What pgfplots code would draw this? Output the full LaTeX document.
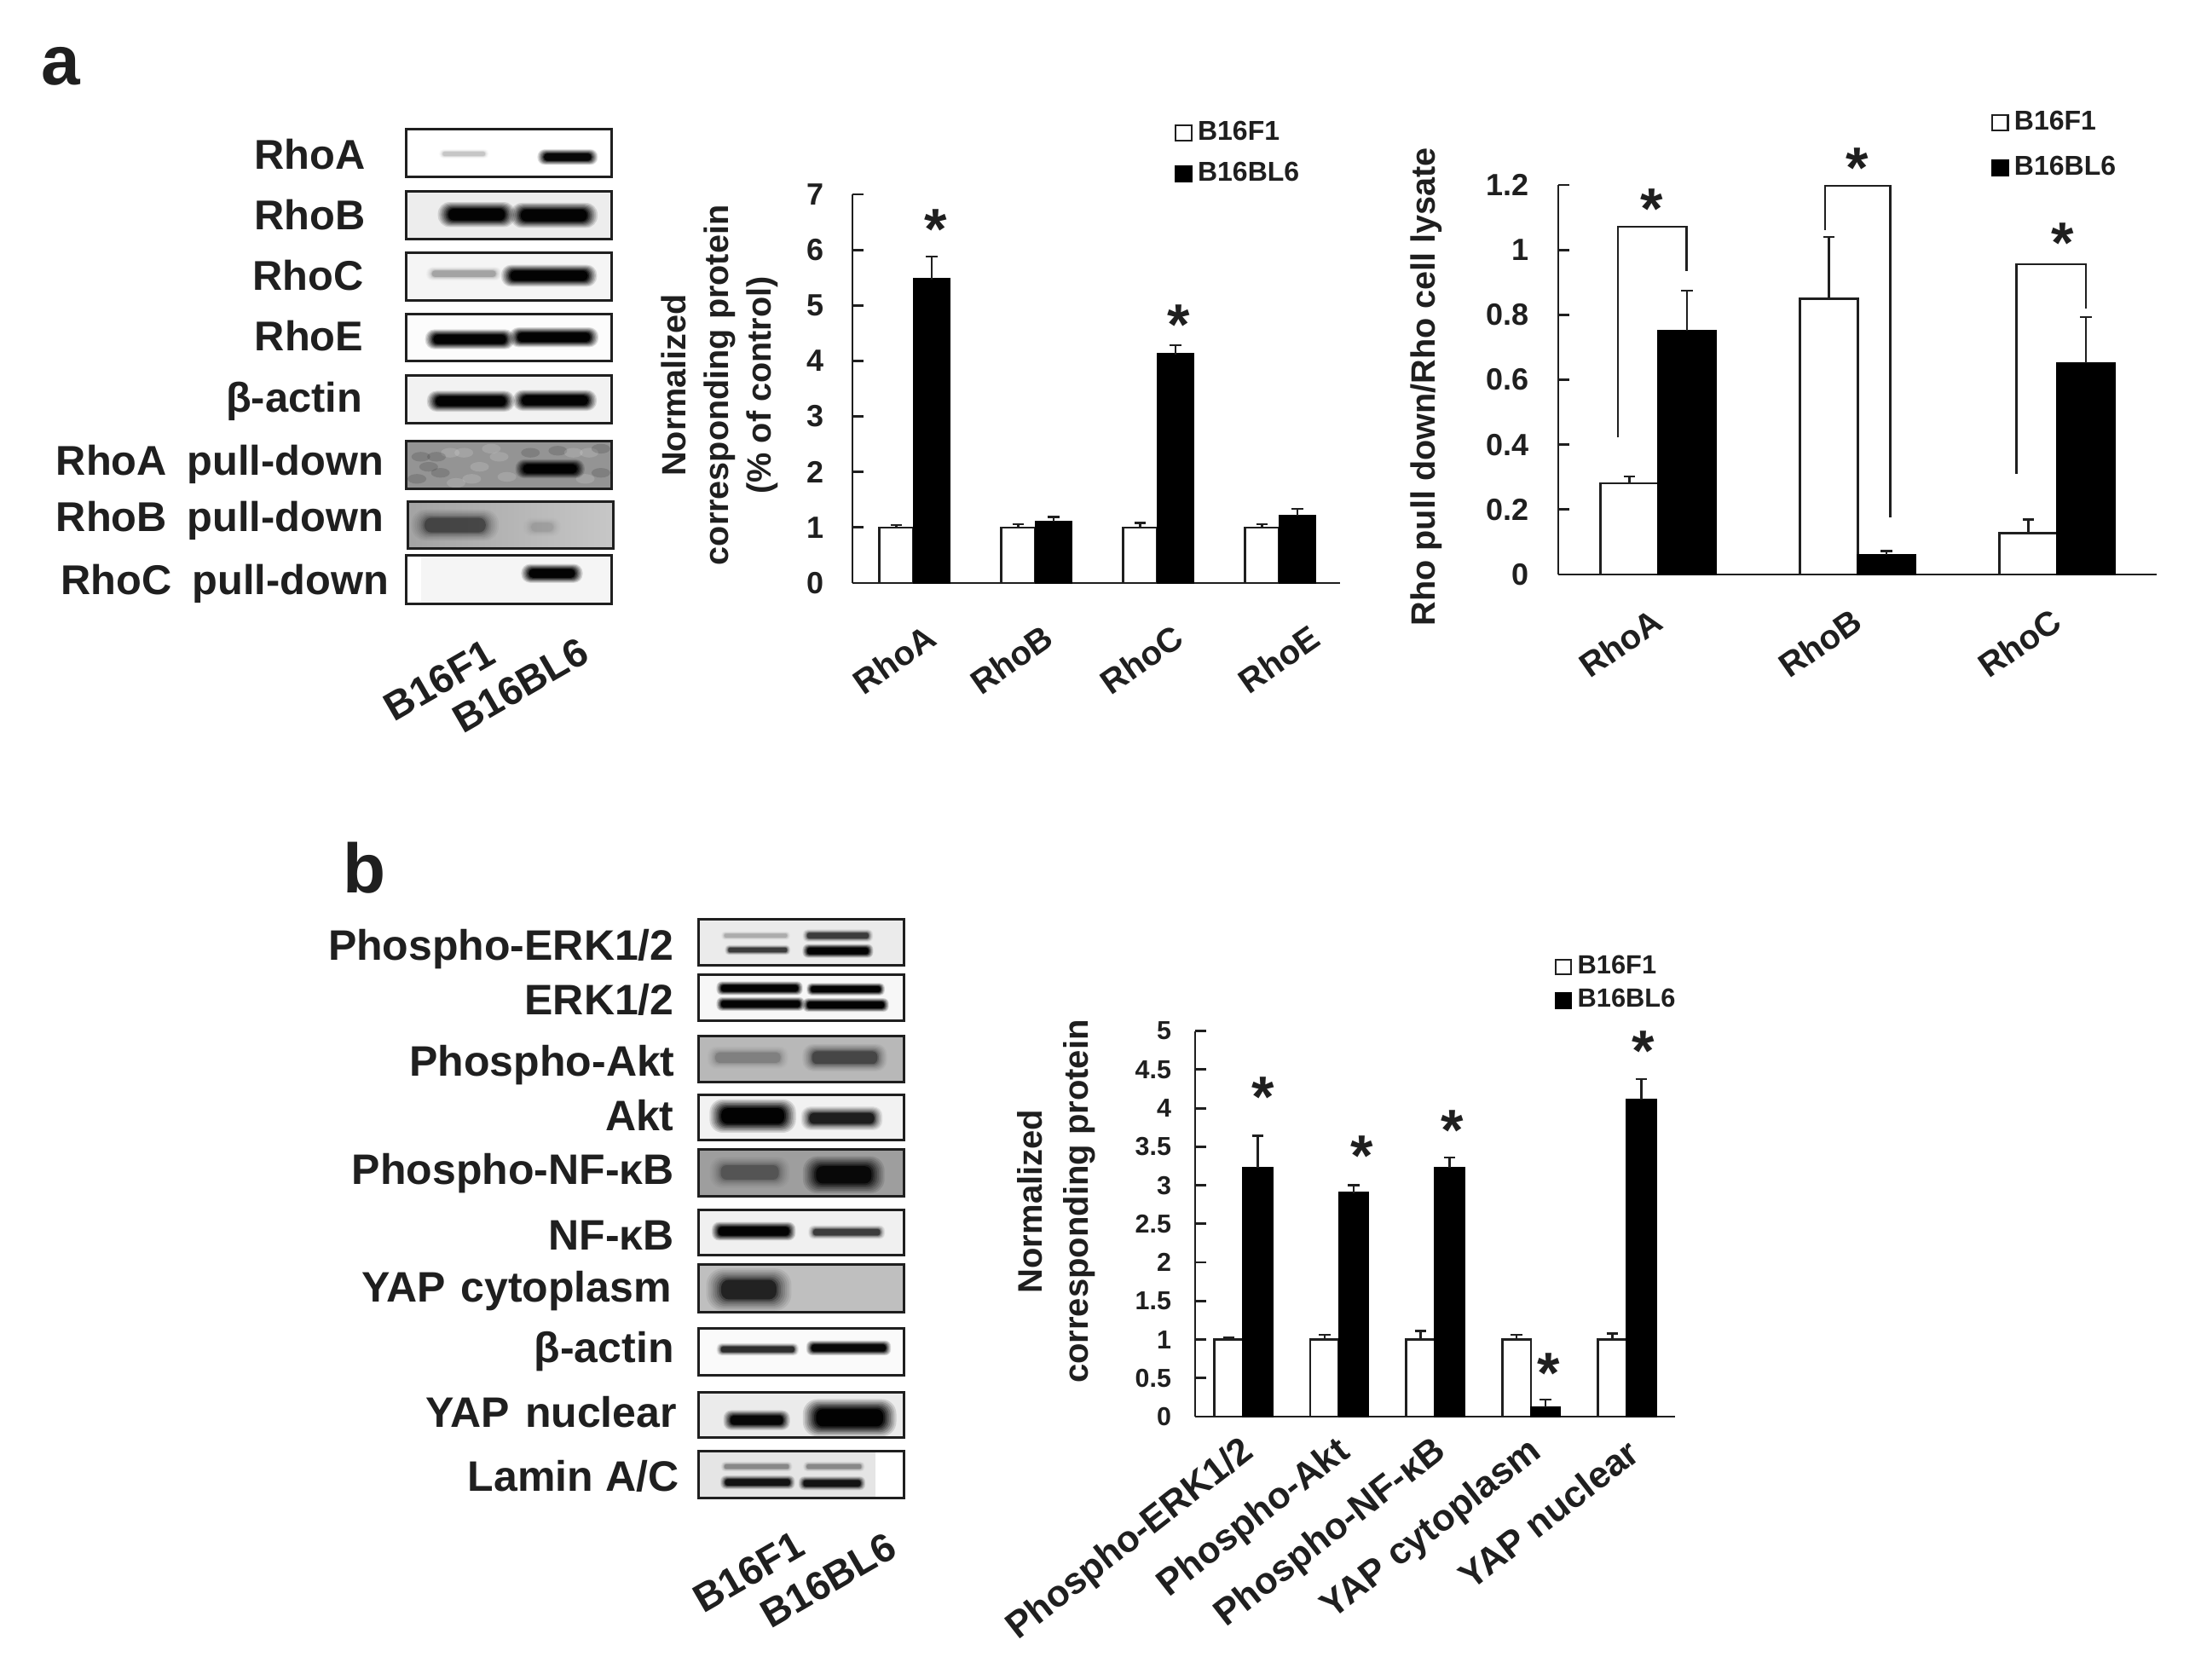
\documentclass[border=0pt]{standalone}
\usepackage{fontspec}
\setmainfont{Liberation Sans}
\usepackage{pgfplots}
\pgfplotsset{compat=1.18}
\definecolor{ink}{gray}{0.12}
\newcommand\band[5]{%
  \foreach \k/\p in {1.3/.125,1.2/.143,1.1/.167,1.0/.2,.9/.25,.8/.333,.7/.5,.6/.9}{%
    \pgfmathsetmacro\ya{#3-\k*#4}\pgfmathsetmacro\yb{#3+\k*#4}%
    \pgfmathsetmacro\xa{#1+(1-\k)*#4*1.6}\pgfmathsetmacro\xb{#2-(1-\k)*#4*1.6}%
    \pgfmathsetmacro\rc{\k*#4*.11}%
    \pgfmathsetmacro\op{min(1,1.8*#5)*\p}%
    \fill[black,opacity=\op,rounded corners=\rc pt] (\xa,\ya) rectangle (\xb,\yb);%
  }}
\newcommand\bg[3]{\fill[black!#3] (\bxa,#1) rectangle (\bxb,#2);}
\newcommand\frm[2]{\draw[ink,line width=.75pt] (\bxa,#1) rectangle (\bxb,#2);}
\newcommand\blab[4]{\node[anchor=base east,inner sep=0pt,text=ink,font=\blotfont] at (#1,#2) {#3#4};}
\newcommand\starfont{\bfseries\fontsize{17}{17}\selectfont}
\newcommand\bstar[2]{\node[anchor=base,inner sep=0pt,yshift=-8.2pt,text=ink,font=\starfont] at (axis cs:#1,#2) {*};}
\pgfplotsset{
  barchart/.style={
    scale only axis, clip=false,
    axis lines=left, axis line style={-,ink,line width=.7pt},
    tick align=inside, ytick pos=left, major tick length=3.25pt,
    ytick style={ink,line width=.7pt}, xtick style={draw=none},
    /pgf/number format/assume math mode=true,
    yticklabel style={anchor=east,inner sep=0pt,text=ink},
    xticklabel style={rotate=35,anchor=east,inner sep=0pt,text=ink},
    legend cell align=left,
  },
  ebars/.style={
    /pgfplots/error bars/y dir=plus,/pgfplots/error bars/y explicit,
    /pgfplots/error bars/error bar style={xshift=#1,ink,line width=.6pt},
    /pgfplots/error bars/error mark options={rotate=90,mark size=1.7pt,ink,line width=.6pt}},
  wbar/.style={ybar,draw=ink,fill=white,line width=.65pt,ebars=#1,
    /pgfplots/legend image code/.code={\draw[draw=ink,fill=white,line width=.55pt] (0pt,-2.2pt) rectangle (4.6pt,2.2pt);}},
  kbar/.style={ybar,draw=black,fill=black,line width=.6pt,ebars=#1,
    /pgfplots/legend image code/.code={\draw[draw=black,fill=black,line width=.55pt] (0pt,-2.2pt) rectangle (4.6pt,2.2pt);}},
  leg/.style n args={4}{legend style={at={(#1,#2)},anchor=north west,draw=none,fill=none,
      inner sep=0pt,outer sep=0pt,row sep=#3,
      nodes={inner sep=1pt,text=ink},
      font=\bfseries\fontsize{#4}{#4}\selectfont,
      /tikz/column 1/.style={column sep=.6pt}}},
}
\begin{document}
\begin{tikzpicture}
\path[use as bounding box] (0,0) rectangle (645.5pt,-492.75pt);

% panel letters
\node[anchor=base west,inner sep=0pt,text=ink,font=\bfseries\fontsize{20.5}{20.5}\selectfont] at (12pt,-24.75pt) {a};
\node[anchor=base west,inner sep=0pt,text=ink,font=\bfseries\fontsize{20.5}{20.5}\selectfont] at (100.5pt,-261.75pt) {b};

% ---------- blots a
\newcommand\blotfont{\bfseries\fontsize{12.2}{12.2}\selectfont}
\begin{scope}[shift={(7.5pt,-32.5pt)},x=0.11478pt,y=-0.11798pt]
\def\bxa{972}\def\bxb{1497}
\bg{45}{165}{0}\band{1060}{1180}{107}{9}{.05}\band{1315}{1455}{115}{15}{.5}\frm{45}{165}
\bg{200}{318}{7}\band{1065}{1240}{258}{24}{.55}\band{1250}{1450}{260}{24}{.55}\frm{200}{318}
\bg{352}{472}{4}\band{1030}{1210}{405}{13}{.08}\band{1225}{1450}{410}{21}{.55}\frm{352}{472}
\bg{505}{622}{1}\band{1030}{1240}{568}{19}{.55}\band{1245}{1455}{563}{19}{.55}\frm{505}{622}
\bg{657}{777}{5}\band{1035}{1240}{722}{20}{.55}\band{1255}{1450}{720}{20}{.55}\frm{657}{777}
\bg{822}{940}{42}
\foreach \a/\b/\c in {1010/860/black,1060/900/black,1000/915/black,1120/850/white,1160/885/white,1210/860/white,1140/915/white,1230/910/white,1085/850/white,1050/860/black,1440/850/white,1470/900/black,1430/915/white,1290/850/black,1360/845/black,1400/850/white,1030/885/black,1190/840/white,1100/925/white,1470/840/black}{%
  \fill[\c,opacity=.14] (\a,\b) ellipse [x radius=24,y radius=12];}
\band{1260}{1420}{890}{18}{.6}\frm{822}{940}
\def\bxa{977}\def\bxb{1502}
\shade[left color=black!36,right color=black!22] (\bxa,972) rectangle (\bxb,1088);
\band{1000}{1195}{1030}{30}{.17}\band{1280}{1360}{1035}{18}{.03}\frm{972}{1088}
\def\bxa{972}\def\bxb{1497}
\bg{1105}{1225}{4}\fill[white] (\bxa,1105) rectangle (1010,1225);\band{1275}{1415}{1150}{18}{.55}\frm{1105}{1225}
\blab{870}{145}{RhoA}{}
\blab{870}{295}{RhoB}{}
\blab{866}{445}{RhoC}{}
\blab{865}{597}{RhoE}{}
\blab{862}{748}{β-actin}{}
\blab{917}{905}{RhoA\hspace{2.6pt} pull-down}{}
\blab{917}{1045}{RhoB\hspace{2.6pt} pull-down}{}
\blab{930}{1203}{RhoC\hspace{2.6pt} pull-down}{}
\end{scope}
\node[rotate=30,inner sep=0pt,text=ink,font=\bfseries\fontsize{11.7}{11.7}\selectfont] at (128.9pt,-199.5pt) {B16F1};
\node[rotate=30,inner sep=0pt,text=ink,font=\bfseries\fontsize{11.7}{11.7}\selectfont] at (152.7pt,-200.9pt) {B16BL6};

% ---------- blots b
\renewcommand\blotfont{\bfseries\fontsize{12.5}{12.5}\selectfont}
\begin{scope}[shift={(92.5pt,-262.5pt)},x=0.11478pt,y=-0.14029pt]
\def\bxa{980}\def\bxb{1505}
\bg{50}{147}{8}\band{1040}{1210}{85}{7}{.06}\band{1050}{1210}{115}{8}{.25}\band{1250}{1420}{85}{10}{.25}\band{1250}{1420}{117}{11}{.55}\frm{50}{147}
\bg{167}{262}{3}\band{1030}{1240}{195}{11}{.55}\band{1260}{1450}{197}{10}{.55}\band{1030}{1245}{228}{11}{.55}\band{1250}{1460}{230}{11}{.55}\frm{167}{262}
\bg{295}{392}{28}\band{1010}{1200}{340}{18}{.07}\band{1255}{1450}{340}{22}{.18}\frm{295}{392}
\bg{417}{512}{5}\band{1020}{1215}{462}{27}{.6}\band{1250}{1440}{467}{19}{.35}\frm{417}{512}
\bg{532}{630}{38}\band{1020}{1200}{580}{25}{.12}\band{1260}{1440}{585}{30}{.45}\frm{532}{630}
\bg{658}{753}{6}\band{1020}{1220}{703}{15}{.55}\band{1265}{1450}{705}{11}{.25}\frm{658}{753}
\bg{773}{872}{25}\band{1015}{1200}{825}{34}{.3}\frm{773}{872}
\bg{907}{1005}{2}\band{1030}{1230}{950}{10}{.3}\band{1260}{1465}{947}{12}{.5}\frm{907}{1005}
\bg{1040}{1135}{8}\band{1050}{1205}{1098}{16}{.5}\band{1260}{1470}{1093}{30}{.65}\frm{1040}{1135}
\bg{1163}{1260}{10}\fill[white] (1430,1163) rectangle (\bxb,1260);\band{1040}{1215}{1195}{8}{.1}\band{1250}{1400}{1195}{8}{.1}\band{1040}{1220}{1228}{11}{.4}\band{1240}{1400}{1230}{11}{.4}\frm{1163}{1260}
\blab{918}{136}{Phospho-ERK1/2}{}
\blab{918}{250}{ERK1/2}{}
\blab{920}{378}{Phospho-Akt}{}
\blab{918}{492}{Akt}{}
\blab{918}{605}{Phospho-NF-κB}{}
\blab{918}{743}{NF-κB}{}
\blab{912}{850}{YAP\hspace{1pt} cytoplasm}{}
\blab{918}{978}{β-actin}{}
\blab{925}{1113}{YAP\hspace{1pt} nuclear}{}
\blab{930}{1247}{Lamin A/C}{}
\end{scope}
\node[rotate=30,inner sep=0pt,text=ink,font=\bfseries\fontsize{11.7}{11.7}\selectfont] at (219.6pt,-461pt) {B16F1};
\node[rotate=30,inner sep=0pt,text=ink,font=\bfseries\fontsize{11.7}{11.7}\selectfont] at (242.9pt,-463.4pt) {B16BL6};

% ---------- chart 1
\begin{axis}[barchart,at={(250pt,-171pt)},anchor=south west,width=143pt,height=114pt,
  xmin=-0.5,xmax=3.5,ymin=0,ymax=7,ytick={0,1,...,7},
  xtick={0.14,1.103,2.171,3.288},xticklabels={RhoA,RhoB,RhoC,RhoE},
  tick label style={font=\bfseries\fontsize{9}{9}\selectfont},
  yticklabel style={xshift=-8.2pt},
  xticklabel style={font=\bfseries\fontsize{10}{10}\selectfont,yshift=-12.37pt,xshift=-8.14pt},
  every axis y label/.style={at={(axis description cs:-0.2727,0.509)},rotate=90,anchor=center,align=center,text=ink,
     font=\bfseries\fontsize{9.9}{12.5}\selectfont},
  ylabel={Normalized\\corresponding protein\\(\% of control)},
  leg={0.661}{1.198}{2.9pt}{8},
]
\addplot[wbar=-5pt,bar width=10pt,bar shift=-5pt] coordinates {(0,1.0)+-(0,0.04) (1,1.0)+-(0,0.06) (2,1.0)+-(0,0.08) (3,1.0)+-(0,0.06)};
\addlegendentry{B16F1}
\addplot[kbar=5.3pt,bar width=10.4pt,bar shift=5.3pt] coordinates {(0,5.47)+-(0,0.41) (1,1.11)+-(0,0.08) (2,4.12)+-(0,0.16) (3,1.21)+-(0,0.13)};
\addlegendentry{B16BL6}
\bstar{0.185}{6.52}
\bstar{2.177}{4.79}
\end{axis}

% ---------- chart 2
\begin{axis}[barchart,at={(457pt,-168.5pt)},anchor=south west,width=175.5pt,height=114.25pt,
  xmin=-0.5,xmax=2.5,ymin=0,ymax=1.2,ytick={0,0.2,0.4,0.6,0.8,1,1.2},
  yticklabels={0,0.2,0.4,0.6,0.8,1,1.2},
  xtick={0,1,2},xticklabels={RhoA,RhoB,RhoC},
  tick label style={font=\bfseries\fontsize{9}{9}\selectfont},
  yticklabel style={xshift=-8.5pt},
  xticklabel style={font=\bfseries\fontsize{10}{10}\selectfont,yshift=-10.2pt,xshift=-6.91pt},
  every axis y label/.style={at={(axis description cs:-0.2208,0.482)},rotate=90,anchor=center,text=ink,
     font=\bfseries\fontsize{9.9}{12}\selectfont},
  ylabel={Rho pull down/Rho cell lysate},
  leg={0.7236}{1.1995}{4.2pt}{8},
]
\addplot[wbar=-8.4pt,bar width=16.9pt,bar shift=-8.4pt] coordinates {(0,0.281)+-(0,0.021) (1,0.85)+-(0,0.19) (2,0.127)+-(0,0.042)};
\addlegendentry{B16F1}
\addplot[kbar=8.5pt,bar width=16.9pt,bar shift=8.5pt] coordinates {(0,0.75)+-(0,0.125) (1,0.06)+-(0,0.012) (2,0.651)+-(0,0.142)};
\addlegendentry{B16BL6}
\addplot[ink,line width=.6pt,sharp plot,no marks,forget plot] coordinates {(-0.2,0.422) (-0.2,1.071) (0.143,1.071) (0.143,0.935)};
\addplot[ink,line width=.6pt,sharp plot,no marks,forget plot] coordinates {(0.838,1.0615) (0.838,1.197) (1.164,1.197) (1.164,0.175)};
\addplot[ink,line width=.6pt,sharp plot,no marks,forget plot] coordinates {(1.797,0.31) (1.797,0.9566) (2.1445,0.9566) (2.1445,0.82)};
\bstar{-0.03}{1.152}
\bstar{1.0}{1.276}
\bstar{2.03}{1.047}
\end{axis}

% ---------- chart 3
\begin{axis}[barchart,at={(350.5pt,-415.5pt)},anchor=south west,width=140.65pt,height=113.1pt,
  xmin=-0.5,xmax=4.5,ymin=0,ymax=5,ytick={0,0.5,1,1.5,2,2.5,3,3.5,4,4.5,5},
  yticklabels={0,0.5,1,1.5,2,2.5,3,3.5,4,4.5,5},
  xtick={0,1,2,3,4},xticklabels={Phospho-ERK1/2,Phospho-Akt,Phospho-NF-κB,YAP cytoplasm,YAP nuclear},
  yticklabel style={font=\bfseries\fontsize{7.6}{7.6}\selectfont,xshift=-6.8pt},
  xticklabel style={rotate=3,font=\bfseries\fontsize{10.9}{10.9}\selectfont,yshift=-8.34pt,xshift=-3.85pt},
  every axis y label/.style={at={(axis description cs:-0.2894,0.558)},rotate=90,anchor=center,align=center,text=ink,
     font=\bfseries\fontsize{10}{13.6}\selectfont},
  ylabel={Normalized\\corresponding protein},
  leg={0.7496}{1.2055}{1pt}{7.7},
]
\addplot[wbar=-4.2pt,bar width=8.4pt,bar shift=-4.2pt] coordinates {(0,1.0)+-(0,0.03) (1,1.0)+-(0,0.06) (2,1.0)+-(0,0.11) (3,1.0)+-(0,0.06) (4,1.0)+-(0,0.08)};
\addlegendentry{B16F1}
\addplot[kbar=4.3pt,bar width=8.5pt,bar shift=4.3pt] coordinates {(0,3.23)+-(0,0.41) (1,2.90)+-(0,0.10) (2,3.23)+-(0,0.13) (3,0.12)+-(0,0.10) (4,4.11)+-(0,0.27)};
\addlegendentry{B16BL6}
\bstar{0.21}{4.25}
\bstar{1.24}{3.48}
\bstar{2.18}{3.82}
\bstar{3.19}{0.67}
\bstar{4.175}{4.84}
\end{axis}
\end{tikzpicture}
\end{document}
